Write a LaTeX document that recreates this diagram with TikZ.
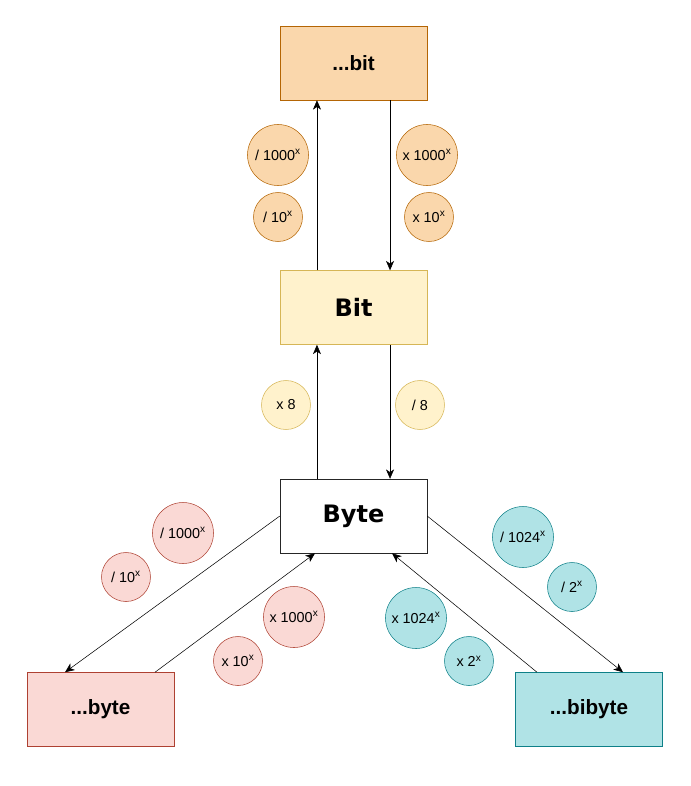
\documentclass[tikz,border=0pt]{standalone}
\usepackage{fontspec}
\setmainfont{Liberation Sans}
\newfontfamily\widebold{DejaVu Sans}
\usetikzlibrary{positioning, arrows.meta}
\definecolor{orgfill}{HTML}{FAD7AC}
\definecolor{orgline}{HTML}{B46504}
\definecolor{yelfill}{HTML}{FFF2CC}
\definecolor{yelline}{HTML}{D6B656}
\definecolor{redfill}{HTML}{FAD9D5}
\definecolor{redline}{HTML}{AE4132}
\definecolor{tealfill}{HTML}{B0E3E6}
\definecolor{tealline}{HTML}{0E8088}
\tikzset{->,>={Stealth[length=7pt, width=6pt, inset=2pt]},
line width=0.75pt, color=black!85,
unitbox/.style={draw, rectangle, minimum width=110.25pt, minimum height=55.5pt,
  text=black, font=\bfseries\fontsize{15.5}{18}\selectfont},
mainbox/.style={unitbox, font=\widebold\bfseries\fontsize{18}{21}\selectfont},
conv/.style={circle, draw, inner sep=0pt, minimum size=45.75pt,
  text=black, font=\fontsize{10.8}{12}\selectfont},
smallconv/.style={conv, minimum size=36.75pt},
orange/.style={fill=orgfill, draw=orgline},
yellow/.style={fill=yelfill, draw=yelline},
red/.style={fill=redfill, draw=redline},
teal/.style={fill=tealfill, draw=tealline}}

\begin{document}
\begin{tikzpicture}[x=0.75pt, y=-0.75pt]
\useasboundingbox (0,0) rectangle (691,786);
\node[unitbox, orange] (kbit) at (353.5,63) {...bit};
\node[mainbox, yellow, below=127.5pt of kbit] (bit) {Bit};
\node[mainbox, fill=white, draw=black!85, below=100.5pt of bit] (byte) {Byte};
\node[unitbox, red] (kbyte) at (100.5,709.5) {...byte};
\node[unitbox, teal] (kibyte) at (589,709.5) {...bibyte};

% bit <-> ...bit
\node[conv, orange] (divk) at (278,155) {/ 1000\textsuperscript{x}};
\node[smallconv, orange] (divt) at (278,217) {/ 10\textsuperscript{x}};
\node[conv, orange] (mulk) at (427,155) {x 1000\textsuperscript{x}};
\node[smallconv, orange] (mult) at (429,217) {x 10\textsuperscript{x}};
% byte <-> bit
\node[smallconv, yellow] (mul8) at (286,405) {x 8};
\node[smallconv, yellow] (div8) at (420,405) {/ 8};
% byte <-> ...byte
\node[conv, red] (bdivk) at (183,533) {/ 1000\textsuperscript{x}};
\node[smallconv, red] (bdivt) at (126,577) {/ 10\textsuperscript{x}};
\node[conv, red] (bmulk) at (294,617) {x 1000\textsuperscript{x}};
\node[smallconv, red] (bmult) at (238,661) {x 10\textsuperscript{x}};
% byte <-> ...bibyte
\node[conv, teal] (idivk) at (523,537) {/ 1024\textsuperscript{x}};
\node[smallconv, teal] (idivt) at (572,587) {/ 2\textsuperscript{x}};
\node[conv, teal] (imulk) at (416,618) {x 1024\textsuperscript{x}};
\node[smallconv, teal] (imult) at (469,661) {x 2\textsuperscript{x}};

\draw ([xshift=-27.4pt]bit.north) -- ([xshift=-27.4pt]kbit.south);
\draw ([xshift=27.4pt]kbit.south) -- ([xshift=27.4pt]bit.north);
\draw ([xshift=-27.4pt]byte.north) -- ([xshift=-27.4pt]bit.south);
\draw ([xshift=27.4pt]bit.south) -- ([xshift=27.4pt]byte.north);
\draw (byte.west) -- ([xshift=-26.6pt]kbyte.north);
\draw ([xshift=40.9pt]kbyte.north) -- ([xshift=-28.9pt]byte.south);
\draw (byte.east) -- ([xshift=25.5pt]kibyte.north);
\draw ([xshift=-39pt]kibyte.north) -- ([xshift=28.9pt]byte.south);
\end{tikzpicture}
\end{document}
